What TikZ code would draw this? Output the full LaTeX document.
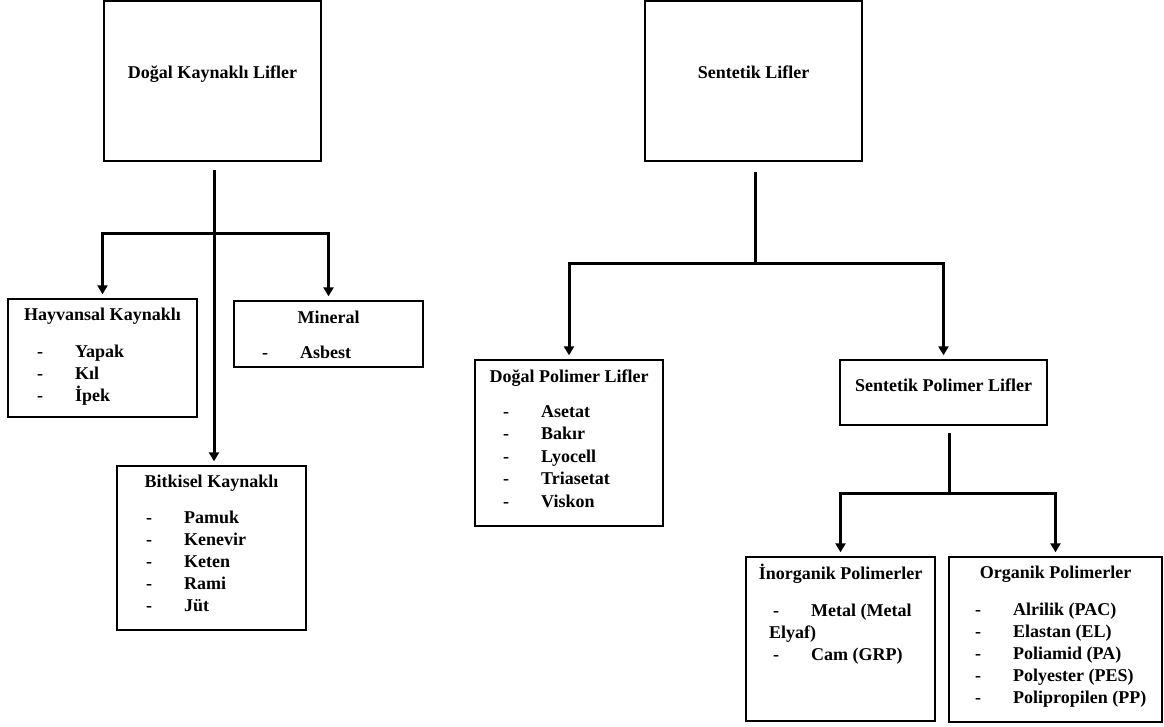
\documentclass[tikz,border=0pt]{standalone}
\usepackage{fontspec}
\setmainfont{Liberation Serif}
\usetikzlibrary{arrows.meta}
\newcommand{\li}[1]{\makebox[38pt][l]{-}#1}

\begin{document}
\begin{tikzpicture}[x=1pt,y=-1pt,
    box/.style={draw,line width=1.4pt,rectangle,inner sep=0pt},
    ttl/.style={font=\bfseries\fontsize{18}{22}\selectfont,anchor=base,inner sep=0pt},
    itm/.style={font=\bfseries\fontsize{18}{22}\selectfont,anchor=base west,inner sep=0pt},
    link/.style={line width=3pt},
    arr/.style={line width=3pt,-{Triangle[length=9pt,width=10pt]},shorten >=4pt}]
	    \useasboundingbox (0,0) rectangle (1164,726);
	    % boxes
	    \node[box,minimum width=217pt,minimum height=160pt](dkl) at (212.5,81) {};
	    \node[box,minimum width=217pt,minimum height=160pt](sl) at (753.5,81) {};
	    \node[box,minimum width=189pt,minimum height=118pt](hay) at (102.5,358) {};
	    \node[box,minimum width=189pt,minimum height=66pt](min) at (328.5,334) {};
	    \node[box,minimum width=189pt,minimum height=164pt](bit) at (211.5,548) {};
	    \node[box,minimum width=188pt,minimum height=166pt](dpl) at (569,443) {};
	    \node[box,minimum width=207pt,minimum height=65pt](spl) at (943.5,392.5) {};
	    \node[box,minimum width=189pt,minimum height=164pt](ino) at (840.5,639) {};
	    \node[box,minimum width=213pt,minimum height=165pt](org) at (1055.5,639.5) {};
	    % titles
	    \node[ttl](dklT) at (212.5,78) {Doğal Kaynaklı Lifler};
	    \node[ttl](slT) at (753.5,78) {Sentetik Lifler};
	    \node[ttl](hayT) at (102.5,320) {Hayvansal Kaynaklı};
	    \node[ttl](minT) at (328.5,323) {Mineral};
	    \node[ttl](bitT) at (211.5,487) {Bitkisel Kaynaklı};
	    \node[ttl](dplT) at (569,382) {Doğal Polimer Lifler};
	    \node[ttl](splT) at (943.5,391) {Sentetik Polimer Lifler};
	    \node[ttl](inoT) at (840.5,579) {İnorganik Polimerler};
	    \node[ttl](orgT) at (1055.5,578) {Organik Polimerler};
	    % lists
	    \foreach \nm [count=\i] in {Yapak,Kıl,İpek}
	        \node[itm](hay\i) at (37,335+22*\i) {\li{\nm}};
	    \node[itm](min1) at (262,358) {\li{Asbest}};
	    \foreach \nm [count=\i] in {Pamuk,Kenevir,Keten,Rami,Jüt}
	        \node[itm](bit\i) at (146,501+22*\i) {\li{\nm}};
	    \foreach \nm [count=\i] in {Asetat,Bakır,Lyocell,Triasetat,Viskon}
	        \node[itm](dpl\i) at (503,394.5+22.5*\i) {\li{\nm}};
	    \node[itm](ino1) at (773,616) {\li{Metal (Metal}};
	    \node[itm](ino2) at (769,638) {Elyaf)};
	    \node[itm](ino3) at (773,660) {\li{Cam (GRP)}};
	    \foreach \nm [count=\i] in {Alrilik (PAC),Elastan (EL),Poliamid (PA),Polyester (PES),Polipropilen (PP)}
	        \node[itm](org\i) at (975,593+22*\i) {\li{\nm}};
	    % connectors
	    \coordinate (t1) at (214,170);
	    \coordinate (j1) at (214,233);
	    \draw[link](t1) -- (j1);
	    \draw[arr](j1) -| (hay.north);
	    \draw[arr](j1) -| (min.north);
	    \draw[arr](j1) -- (j1 |- bit.north);
	    \coordinate (t2) at (755,172);
	    \coordinate (j2) at (755,263);
	    \draw[link](t2) -- (j2);
	    \draw[arr](j2) -| (dpl.north);
	    \draw[arr](j2) -| (spl.north);
	    \coordinate (t3) at (949,433);
	    \coordinate (j3) at (949,493);
	    \draw[link](t3) -- (j3);
	    \draw[arr](j3) -| (ino.north);
	    \draw[arr](j3) -| (org.north);
\end{tikzpicture}
\end{document}
